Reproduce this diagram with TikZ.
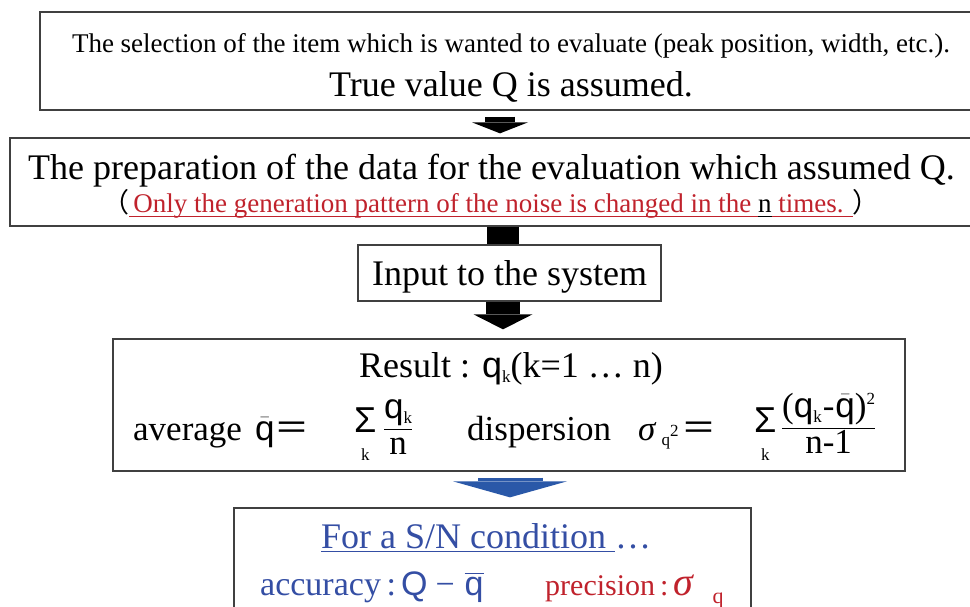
\documentclass[tikz,border=0pt]{standalone}
\usepackage{fontspec}
\usepackage{amsmath}
\usepackage{graphicx}
\setmainfont{Liberation Serif}
\setsansfont{Liberation Sans}
\newfontfamily\cjk{Noto Sans CJK JP}
\usetikzlibrary{arrows.meta,positioning,calc}

\definecolor{txtred}{RGB}{192,34,44}
\definecolor{txtblue}{RGB}{52,78,164}
\definecolor{arrblue}{RGB}{42,88,168}
\definecolor{boxgray}{RGB}{64,64,64}

\setlength{\arrayrulewidth}{1.2pt}
\newcommand{\qs}{\textsf{q}}
\newcommand{\qbar}{$\bar{\text{\sffamily q}}$}
\newcommand{\sub}[1]{\raisebox{-5pt}{\fontsize{17}{17}\selectfont #1}}
\newcommand{\sqr}{\raisebox{13pt}{\fontsize{17}{17}\selectfont 2}}
\newcommand{\frc}[2]{{\renewcommand{\arraystretch}{0.85}\begin{tabular}[t]{@{}c@{}}#1\\\hline #2\end{tabular}}}
\newcommand{\sumk}{{\renewcommand{\arraystretch}{0.667}\begin{tabular}[t]{@{}c@{}}\sffamily\fontsize{36}{36}\selectfont Σ\\\fontsize{17}{17}\selectfont k\end{tabular}}}

\tikzset{
  box/.style={draw=boxgray, line width=1.3pt, fill=white, inner sep=0pt},
  txt/.style={inner sep=0pt, anchor=base},
  txtw/.style={inner sep=0pt, anchor=base west},
  fatarrow/.style n args={3}{line width=#1, -{Triangle[width=#2, length=#3, line width=0pt]}}
}

\begin{document}
\begin{tikzpicture}[x=1pt,y=1pt]
  \useasboundingbox (0,0) rectangle (970,-607);
  \clip (0,0) rectangle (970,-607);

  % Boxes
  \node[box, minimum width=942pt, minimum height=98pt] (sel) at (511,-61) {};
  \node[box, minimum width=963pt, minimum height=88pt] (prep) at (491.5,-182) {};
  \node[box, minimum width=303pt, minimum height=56pt] (input) at (509.5,-273) {};
  \node[box, minimum width=792pt, minimum height=132pt] (result) at (509,-405) {};
  \node[box, minimum width=517pt, minimum height=132pt] (cond) at (492.5,-574) {};

  % Arrows
  \coordinate (ax1) at (500,0);
  \coordinate (ax2) at (503,0);
  \coordinate (ax3) at (510,0);
  \draw[fatarrow={30pt}{56pt}{11pt}, shorten <=6pt, shorten >=4pt] (sel.south -| ax1) -- (prep.north -| ax1);
  \draw[line width=32pt] (prep.south -| ax2) -- (input.north -| ax2);
  \draw[fatarrow={34pt}{59pt}{15pt}, shorten >=9pt] (input.south -| ax2) -- (result.north -| ax2);
  \draw[fatarrow={65pt}{114pt}{16pt}, arrblue, shorten <=6pt, shorten >=10pt] (result.south -| ax3) -- (cond.north -| ax3);

  % Selection of the item
  \node[txt, font=\fontsize{27}{32}\selectfont] (selA) at (511,-53) {The selection of the item which is wanted to evaluate (peak position, width, etc.).};
  \node[txt, font=\fontsize{36}{43}\selectfont] (selB) at (511,-97) {True value Q is assumed.};

  % Preparation of the data
  \node[txt, font=\fontsize{36}{43}\selectfont] (prepA) at (491.5,-180) {The preparation of the data for the evaluation which assumed Q.};
  \node[txt, font=\fontsize{27}{32}\selectfont] (prepB) at (491,-213) {{\cjk （}{\color{txtred}\underline{\smash{\hspace{4pt}Only the generation pattern of the noise is changed in the }}}\underline{\smash{n}}{\color{txtred}\underline{\smash{ times. }}}{\cjk ）}};

  % Input
  \node[txt, font=\fontsize{36}{43}\selectfont] (inputA) at (509.5,-285) {Input to the system};

  % Result, average and dispersion
  \node[txt, font=\fontsize{36}{43}\selectfont] (resA) at (511,-377) {Result : \qs\sub{k}(k=1 … n)};
  \node[txtw, font=\fontsize{35}{42}\selectfont] (avg) at (133,-440) {average};
  \node[txtw, font=\fontsize{35}{42}\selectfont] (avgq) at (255,-440) {\qbar{\cjk ＝}};
  \node[txtw, font=\fontsize{35}{42}\selectfont] (avgsum) at (354,-432) {\sumk};
  \node[txtw, font=\fontsize{35}{42}\selectfont] (avgfrac) at (384,-418) {\frc{\qs\sub{k}}{n}};
  \node[txtw, font=\fontsize{35}{42}\selectfont] (disp) at (467,-440) {dispersion};
  \node[txtw, font=\fontsize{35}{42}\selectfont] (dispsig) at (638,-440) {\textit{σ}\hspace{5pt}\sub{q}\raisebox{4pt}{\fontsize{17}{17}\selectfont 2}\hspace{3pt}{\cjk ＝}};
  \node[txtw, font=\fontsize{35}{42}\selectfont] (dispsum) at (754,-432) {\sumk};
  \node[txtw, font=\fontsize{35}{42}\selectfont] (dispfrac) at (782,-417) {\frc{(\qs\sub{k}\hspace{1pt}-\hspace{1pt}\qbar)\sqr}{n-1}};

  % Accuracy and precision
  \node[txtw, font=\fontsize{36}{43}\selectfont, text=txtblue] (condA) at (321,-548) {\underline{\smash{For a S/N condition }}…};
  \node[txtw, font=\fontsize{34}{41}\selectfont, text=txtblue] (acc) at (260,-595) {accuracy\,:\hspace{5pt}\textsf{Q}\hspace{8pt}−\hspace{10pt}$\overline{\text{\sffamily q}}$};
  \node[txtw, font=\fontsize{30}{36}\selectfont, text=txtred] (prec) at (545,-595) {precision\,:\,{\fontsize{40}{40}\selectfont\textit{σ}}\hspace{18pt}\raisebox{-8pt}{\fontsize{22}{22}\selectfont q}};
\end{tikzpicture}
\end{document}
